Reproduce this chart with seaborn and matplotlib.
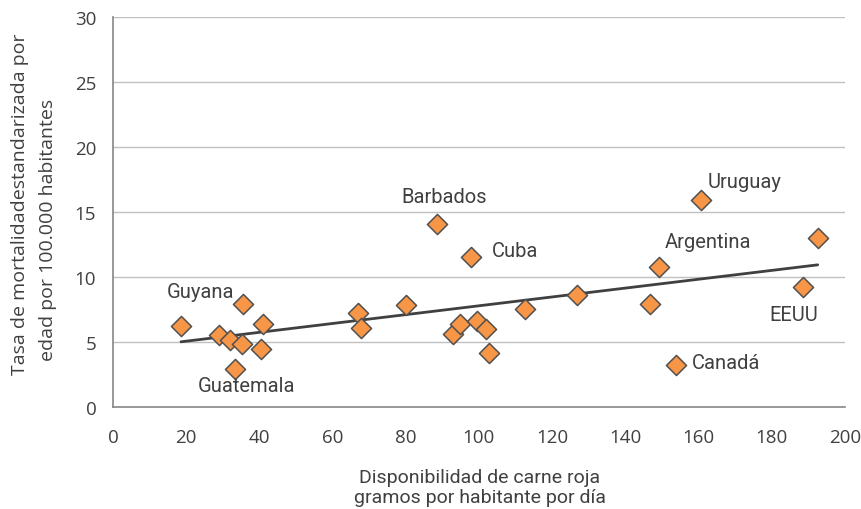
import matplotlib
matplotlib.use("Agg")
import matplotlib.pyplot as plt
import seaborn as sns
import pandas as pd

# Data
carne = [18.6, 29.0, 32.0, 35.5, 35.2, 33.3, 41.0, 40.5, 67.0, 67.8, 80.0, 88.5,
         93.0, 94.8, 97.8, 99.5, 102.0, 102.7, 112.6, 126.8, 146.9, 149.2, 153.9,
         160.7, 188.5, 192.6]
tasa = [6.25, 5.5, 5.15, 7.95, 4.85, 2.9, 6.35, 4.45, 7.2, 6.05, 7.85, 14.1,
        5.6, 6.4, 11.5, 6.6, 6.0, 4.15, 7.55, 8.6, 7.95, 10.8, 3.25,
        15.95, 9.2, 13.0]

etiquetas = ["Guyana", "Guatemala", "Barbados", "Cuba", "Uruguay", "Argentina", "EEUU", "Canadá"]
etiqueta_x = [23.8, 36.6, 90.4, 109.8, 172.7, 162.6, 186.1, 167.5]
etiqueta_y = [8.9, 1.65, 16.2, 12.05, 17.35, 12.7, 7.1, 3.4]

x_ticks = [0, 20, 40, 60, 80, 100, 120, 140, 160, 180, 200]
y_ticks = [0, 5, 10, 15, 20, 25, 30]

df = pd.DataFrame({"carne": carne, "tasa": tasa})

sns.set_theme(style="white")
plt.rcParams["font.family"] = ["Open Sans", "DejaVu Sans"]
narrow = ["Roboto", "DejaVu Sans"]

txt = "#404040"
fig = plt.figure(figsize=(8.62, 5.10), dpi=100)
ax = fig.add_axes([0.131, 0.2, 0.849, 0.765])

for yv in y_ticks[1:]:
    ax.axhline(yv, color="#C0C0C0", lw=1.0, zorder=0)

sns.regplot(data=df, x="carne", y="tasa", scatter=False, ci=None, ax=ax,
            line_kws=dict(color="#404040", lw=2.0, zorder=2))
sns.scatterplot(data=df, x="carne", y="tasa", ax=ax, marker="D", s=105,
                color="#F79646", edgecolor="#505050", linewidth=1.1, zorder=3)

for lab, lx, ly in zip(etiquetas, etiqueta_x, etiqueta_y):
    ax.text(lx, ly, lab, ha="center", va="center", fontsize=14.5, color=txt,
            family=narrow)

ax.set_xlim(0, 200)
ax.set_ylim(0, 30)
ax.set_xticks(x_ticks)
ax.set_yticks(y_ticks)
ax.tick_params(axis="both", labelsize=13.5, colors=txt, length=6, width=1,
               direction="out", color="#868686")
ax.tick_params(axis="x", pad=9)
ax.tick_params(axis="y", pad=6)
for side in ["top", "right"]:
    ax.spines[side].set_visible(False)
for side in ["left", "bottom"]:
    ax.spines[side].set_color("#868686")
    ax.spines[side].set_linewidth(1.2)
ax.set_xlabel("")
ax.set_ylabel("")

fig.text(479.5 / 862, 1 - 483 / 510, "Disponibilidad de carne roja", ha="center",
         va="baseline", fontsize=14, color=txt, family=narrow)
fig.text(479.5 / 862, 1 - 503 / 510, "gramos por habitante por día", ha="center",
         va="baseline", fontsize=14, color=txt, family=narrow)
fig.text(20 / 862, 1 - 204 / 510, "Tasa de mortalidadestandarizada por", ha="center",
         va="center", rotation=90, fontsize=14, color=txt)
fig.text(48 / 862, 1 - 230 / 510, "edad por 100.000 habitantes", ha="center",
         va="center", rotation=90, fontsize=14, color=txt)

fig.savefig("out.png", dpi=100)
